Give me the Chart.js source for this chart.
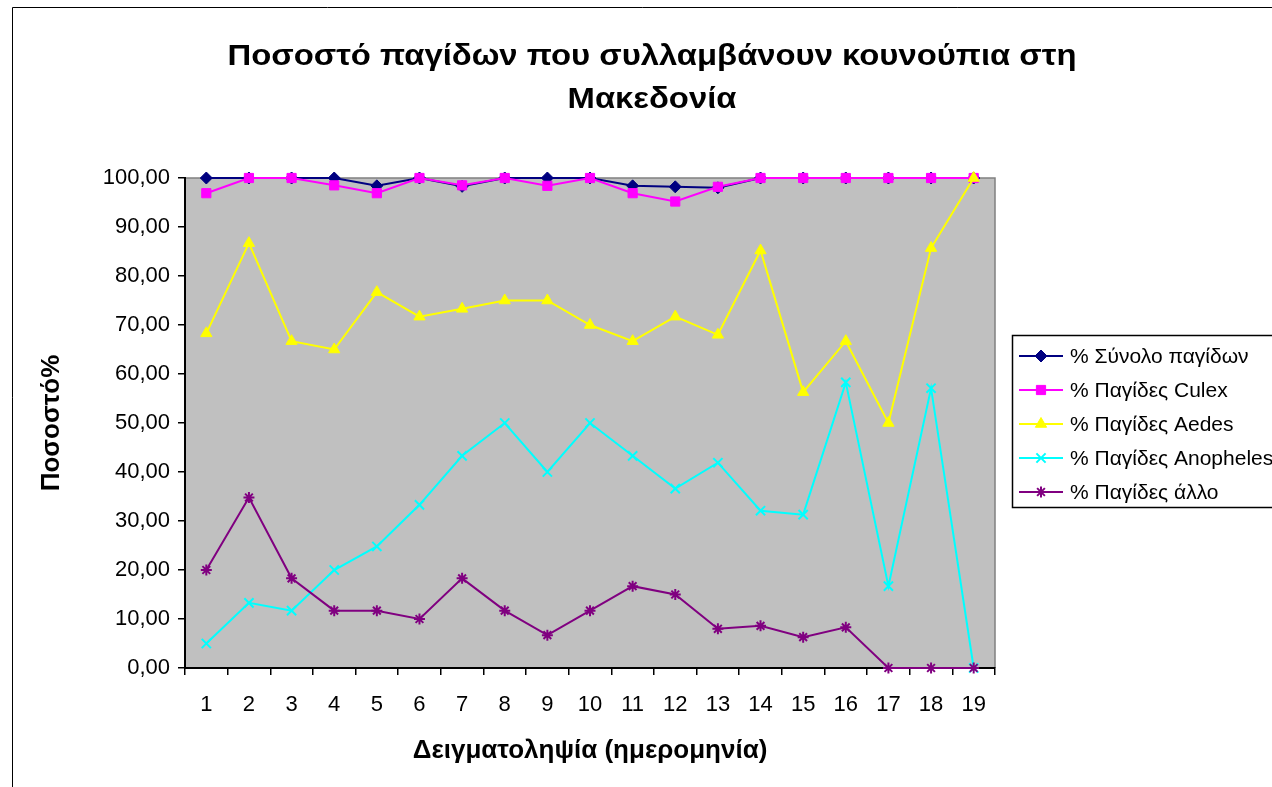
<!DOCTYPE html>
<html><head><meta charset="utf-8">
<script src="https://cdn.jsdelivr.net/npm/chart.js@4/dist/chart.umd.min.js"></script>
<style>html,body{margin:0;padding:0;background:#fff;overflow:hidden}#wrap{width:1272px;height:787px;position:relative}</style>
</head><body><div id="wrap"><canvas id="c" width="1272" height="787"></canvas></div>
<script>
const categories = ['1','2','3','4','5','6','7','8','9','10','11','12','13','14','15','16','17','18','19'];
const seriesNames = ['% Σύνολο παγίδων','% Παγίδες Culex','% Παγίδες Aedes','% Παγίδες Anopheles','% Παγίδες άλλο'];
const totalTraps = [100,100,100,100,98.4,100,98.3,100,100,100,98.4,98.2,98.0,100,100,100,100,100,100];
const culexTraps = [96.9,100,100,98.5,96.9,100,98.5,100,98.4,100,96.9,95.2,98.2,100,100,100,100,100,100];
const aedesTraps = [68.3,86.7,66.7,65.0,76.7,71.7,73.3,75.0,75.0,70.0,66.7,71.7,68.0,85.2,56.3,66.7,50.0,85.7,100];
const anophelesTraps = [5.0,13.3,11.7,20.0,24.8,33.3,43.3,50.0,40.0,50.0,43.3,36.6,41.9,32.1,31.3,58.3,16.7,57.1,0];
const otherTraps = [20.0,34.8,18.3,11.7,11.7,10.0,18.3,11.7,6.7,11.7,16.7,15.0,8.0,8.6,6.3,8.3,0,0,0];
const yTicks = [0,10,20,30,40,50,60,70,80,90,100];
const titleLines = ['Ποσοστό παγίδων που συλλαμβάνουν κουνούπια στη','Μακεδονία'];
const xTitle = 'Δειγματοληψία (ημερομηνία)';
const yTitle = 'Ποσοστό%';

const FONT = "'Liberation Sans', Arial, sans-serif";
const styles = [
  {color:'#000080', pointStyle:'rectRot', radius:6, bw:1},
  {color:'#FF00FF', pointStyle:'rect', radius:6.5, bw:1},
  {color:'#FFFF00', pointStyle:'triangle', radius:6.5, bw:1},
  {color:'#00FFFF', pointStyle:'crossRot', radius:6.5, bw:2},
  {color:'#800080', pointStyle:'star', radius:5.5, bw:2}
];
const values = [totalTraps, culexTraps, aedesTraps, anophelesTraps, otherTraps];

const datasets = values.map((v,i)=>({
  label: seriesNames[i],
  data: v,
  borderColor: styles[i].color,
  backgroundColor: styles[i].color,
  borderWidth: 2,
  pointStyle: styles[i].pointStyle,
  pointRadius: styles[i].radius,
  pointHoverRadius: styles[i].radius,
  pointBorderWidth: styles[i].bw,
  pointBackgroundColor: styles[i].color,
  pointBorderColor: styles[i].color,
  tension: 0,
  fill: false,
  clip: false,
  order: 4 - i
}));

function drawMarker(ctx, st, x, y){
  ctx.save();
  ctx.fillStyle = st.color; ctx.strokeStyle = st.color; ctx.lineWidth = st.bw;
  if (Chart.helpers && Chart.helpers.drawPoint) {
    Chart.helpers.drawPoint(ctx, {pointStyle: st.pointStyle, radius: st.radius, rotation: 0, borderWidth: st.bw}, x, y);
  }
  ctx.restore();
}

const framePlugin = {
  id: 'frame',
  beforeDraw(chart){
    const ctx = chart.ctx, a = chart.chartArea;
    ctx.save();
    ctx.fillStyle = '#fff'; ctx.fillRect(0,0,chart.width,chart.height);
    ctx.fillStyle = '#C0C0C0'; ctx.fillRect(a.left, a.top, a.right-a.left, a.bottom-a.top);
    ctx.strokeStyle = '#808080'; ctx.lineWidth = 1.5;
    ctx.beginPath(); ctx.moveTo(a.left, a.top); ctx.lineTo(a.right, a.top); ctx.lineTo(a.right, a.bottom); ctx.stroke();
    ctx.strokeStyle = '#000'; ctx.lineWidth = 1;
    ctx.beginPath(); ctx.moveTo(12.5, chart.height+5); ctx.lineTo(12.5, 7.5); ctx.lineTo(chart.width+5, 7.5); ctx.stroke();
    // title, horizontally widened to match the reference rendering
    ctx.fillStyle = '#000'; ctx.textAlign = 'center'; ctx.textBaseline = 'middle';
    ctx.font = "bold 29px " + FONT;
    const w = ctx.measureText(titleLines[0]).width;
    const sx = 849 / w;
    ctx.translate(652, 0); ctx.scale(sx, 1);
    ctx.fillText(titleLines[0], 0, 57);
    ctx.fillText(titleLines[1], 0, 100);
    ctx.restore();
  },
  afterDraw(chart){
    const ctx = chart.ctx;
    ctx.save();
    ctx.fillStyle = '#fff'; ctx.strokeStyle = '#000'; ctx.lineWidth = 1.5;
    ctx.fillRect(1012, 335, 300, 172);
    ctx.strokeRect(1012.5, 335.5, 300, 172);
    ctx.font = "21px " + FONT; ctx.textBaseline = 'middle'; ctx.textAlign = 'left';
    const rows = [356, 390, 424, 458, 492];
    seriesNames.forEach((n,i)=>{
      const y = rows[i];
      ctx.strokeStyle = styles[i].color; ctx.lineWidth = 2;
      ctx.beginPath(); ctx.moveTo(1019, y); ctx.lineTo(1063, y); ctx.stroke();
      drawMarker(ctx, styles[i], 1041, y);
      ctx.fillStyle = '#000';
      ctx.fillText(n, 1070, y + 1);
    });
    ctx.restore();
  }
};

new Chart(document.getElementById('c'), {
  type: 'line',
  data: { labels: categories, datasets },
  options: {
    responsive: false,
    animation: false,
    devicePixelRatio: 1,
    layout: { padding: { top: 178, right: 277, left: 0, bottom: 0 } },
    plugins: { legend: { display: false }, title: { display: false }, tooltip: { enabled: false } },
    scales: {
      x: {
        type: 'category',
        offset: true,
        grid: { offset: true, drawOnChartArea: false, drawTicks: true, tickLength: 7, color: '#000', lineWidth: 1.5 },
        border: { display: true, color: '#000', width: 2 },
        ticks: { color: '#000', font: { family: FONT, size: 22 }, padding: 17, maxRotation: 0, autoSkip: false },
        title: { display: true, text: xTitle, color: '#000', font: { family: FONT, size: 26, weight: 'bold' }, padding: { top: 0, bottom: 21 } },
        afterFit(s){ s.height = 119; }
      },
      y: {
        min: 0, max: 100,
        afterBuildTicks(s){ s.ticks = yTicks.map(v=>({value:v})); },
        grid: { drawOnChartArea: false, drawTicks: true, tickLength: 7, color: '#000', lineWidth: 1.5 },
        border: { display: true, color: '#000', width: 2 },
        ticks: { color: '#000', font: { family: FONT, size: 22 }, padding: 8, callback: v => v.toFixed(2).replace('.', ',') },
        title: { display: true, text: yTitle, color: '#000', font: { family: FONT, size: 26, weight: 'bold' }, padding: { top: 36, bottom: 0 } },
        afterFit(s){ s.width = 185; }
      }
    }
  },
  plugins: [framePlugin]
});
</script>
</body></html>
